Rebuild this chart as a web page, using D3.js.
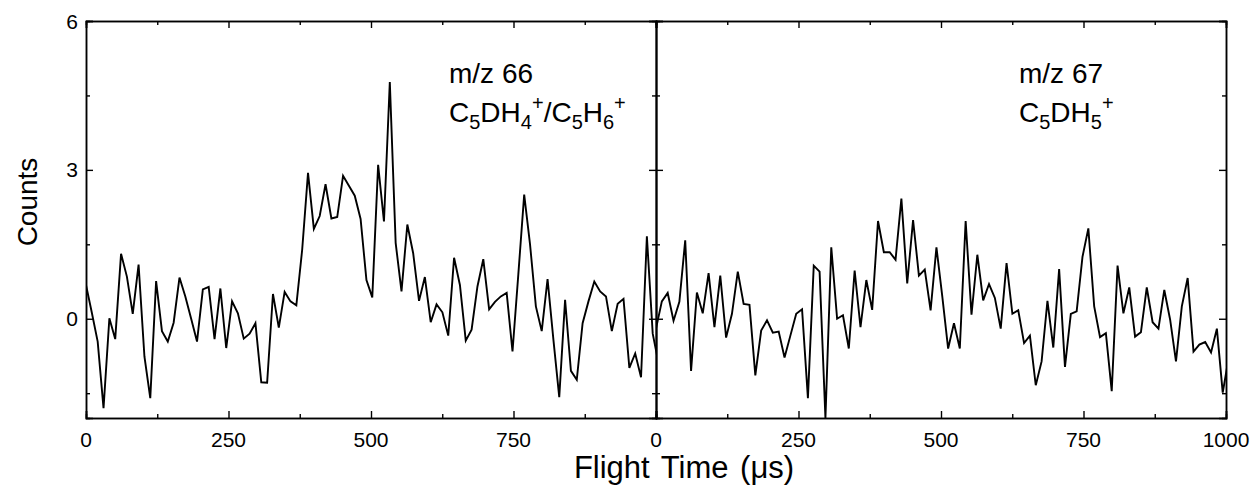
<!DOCTYPE html>
<html>
<head>
<meta charset="utf-8">
<script src="https://cdn.jsdelivr.net/npm/d3@7"></script>
<style>
  html, body { margin: 0; padding: 0; background: #ffffff; }
  svg { display: block; }
  text { font-family: "Liberation Sans", Arial, sans-serif; fill: #000; }
</style>
</head>
<body>
<div id="chart"></div>
<script>
// ---------------- data ----------------
const binWidth = 10.25; // µs per channel
const flightTimes = d3.range(99).map(i => i * binWidth);

const countsM66 = [
  0.68, 0.12, -0.46, -1.8, 0.01, -0.41, 1.31, 0.85, 0.1, 1.09,
  -0.76, -1.6, 0.76, -0.25, -0.46, -0.08, 0.83, 0.45, 0.0, -0.46,
  0.59, 0.64, -0.41, 0.61, -0.59, 0.35, 0.11, -0.4, -0.3, -0.09,
  -1.28, -1.29, 0.5, -0.18, 0.54, 0.35, 0.27, 1.39, 2.94, 1.81,
  2.07, 2.71, 2.02, 2.05, 2.88, 2.68, 2.48, 2.01, 0.78, 0.43,
  3.1, 1.96, 4.77, 1.53, 0.55, 1.9, 1.32, 0.36, 0.84, -0.07,
  0.29, 0.13, -0.34, 1.23, 0.68, -0.44, -0.22, 0.65, 1.2, 0.19,
  0.34, 0.45, 0.52, -0.66, 0.9, 2.5, 1.5, 0.25, -0.25, 0.8,
  -0.42, -1.58, 0.38, -1.05, -1.23, -0.09, 0.35, 0.75, 0.55, 0.45,
  -0.25, 0.3, 0.4, -0.99, -0.7, -1.18, 1.66, -0.3, -0.9
];

const countsM67 = [
  -0.2, 0.35, 0.52, -0.04, 0.34, 1.58, -1.05, 0.53, 0.11, 0.92,
  -0.17, 0.87, -0.38, 0.1, 0.95, 0.3, 0.28, -1.14, -0.24, -0.03,
  -0.28, -0.26, -0.78, -0.34, 0.1, 0.19, -1.6, 1.07, 0.95, -2.0,
  1.44, 0.0, 0.07, -0.6, 0.97, -0.17, 0.78, 0.18, 1.97, 1.34,
  1.34, 1.19, 2.42, 0.71, 1.99, 0.87, 0.99, 0.17, 1.44, 0.45,
  -0.6, -0.09, -0.6, 1.97, 0.08, 1.29, 0.37, 0.7, 0.42, -0.2,
  1.12, 0.1, 0.17, -0.49, -0.34, -1.34, -0.86, 0.36, -0.58, 1.0,
  -0.97, 0.1, 0.15, 1.25, 1.82, 0.25, -0.37, -0.29, -1.46, 1.07,
  0.11, 0.63, -0.36, -0.27, 0.63, -0.07, -0.2, 0.58, -0.02, -0.86,
  0.25, 0.82, -0.66, -0.52, -0.47, -0.68, -0.2, -1.49, -0.8
];

const xMajorTicks = [0, 250, 500, 750, 1000];
const xMinorTicks = [125, 375, 625, 875];
const yMajorTicks = [0, 3, 6];
const yMinorTicks = [-1.5, 1.5, 4.5];
const yLabels = [0, 3, 6];

const panels = [
  { id: "m66", values: countsM66, title: "m/z 66",
    formula: [{t:"C"},{t:"5",s:"sub"},{t:"DH"},{t:"4",s:"sub"},{t:"+",s:"sup"},{t:"/C"},{t:"5",s:"sub"},{t:"H"},{t:"6",s:"sub"},{t:"+",s:"sup"}],
    xLabels: [0, 250, 500, 750] },
  { id: "m67", values: countsM67, title: "m/z 67",
    formula: [{t:"C"},{t:"5",s:"sub"},{t:"DH"},{t:"5",s:"sub"},{t:"+",s:"sup"}],
    xLabels: [0, 250, 500, 750, 1000] }
];

// ---------------- layout ----------------
const W = 1254, H = 497;
const plotTop = 21, plotBottom = 418;
const panelX = [[86, 656], [656, 1226]];
const majorLen = 7, minorLen = 4;

const svg = d3.select("#chart").append("svg").attr("width", W).attr("height", H);
svg.append("rect").attr("width", W).attr("height", H).attr("fill", "#ffffff");

const y = d3.scaleLinear().domain([-2, 6]).range([plotBottom, plotTop]);

panels.forEach((p, pi) => {
  const x = d3.scaleLinear().domain([0, 1000]).range(panelX[pi]);
  const g = svg.append("g");

  svg.append("clipPath").attr("id", "clip-" + p.id)
    .append("rect")
    .attr("x", x(0)).attr("y", y(6))
    .attr("width", x(1000) - x(0)).attr("height", y(-2) - y(6));

  const line = d3.line().x((d, i) => x(flightTimes[i])).y(d => y(d));
  g.append("path")
    .datum(p.values)
    .attr("clip-path", "url(#clip-" + p.id + ")")
    .attr("d", line)
    .attr("fill", "none")
    .attr("stroke", "#000")
    .attr("stroke-width", 1.9)
    .attr("stroke-linejoin", "miter");

  const mk = (axisFn, pos, vals, len) => g.append("g").attr("transform", pos)
    .call(axisFn.tickValues(vals).tickSize(-len).tickFormat(""));

  const axes = [
    mk(d3.axisBottom(x), `translate(0,${y(-2)})`, xMajorTicks, majorLen),
    mk(d3.axisBottom(x), `translate(0,${y(-2)})`, xMinorTicks, minorLen),
    mk(d3.axisTop(x), `translate(0,${y(6)})`, xMajorTicks, majorLen),
    mk(d3.axisTop(x), `translate(0,${y(6)})`, xMinorTicks, minorLen),
    mk(d3.axisLeft(y), `translate(${x(0)},0)`, yMajorTicks, majorLen),
    mk(d3.axisLeft(y), `translate(${x(0)},0)`, yMinorTicks, minorLen),
    mk(d3.axisRight(y), `translate(${x(1000)},0)`, yMajorTicks, majorLen),
    mk(d3.axisRight(y), `translate(${x(1000)},0)`, yMinorTicks, minorLen)
  ];
  axes.forEach(a => {
    a.select(".domain").attr("stroke", "#000").attr("stroke-width", 1.5);
    a.selectAll(".tick line").attr("stroke", "#000").attr("stroke-width", 1.4);
  });

  g.selectAll("text.xl").data(p.xLabels).enter().append("text")
    .attr("class", "xl")
    .attr("x", d => x(d)).attr("y", 447)
    .attr("text-anchor", "middle")
    .attr("font-size", 21)
    .text(d => d);

  const tx = pi === 0 ? 449 : 1019;
  svg.append("text").attr("x", tx).attr("y", 83).attr("font-size", 28).text(p.title);
  const ft = svg.append("text").attr("x", tx).attr("y", 122).attr("font-size", 28);
  let cur = 0;
  p.formula.forEach(seg => {
    const target = seg.s === "sub" ? 7 : seg.s === "sup" ? -12 : 0;
    const ts = ft.append("tspan").text(seg.t).attr("dy", target - cur);
    if (seg.s) ts.attr("font-size", 20);
    cur = target;
  });
});

svg.selectAll("text.yl").data(yLabels).enter().append("text")
  .attr("class", "yl")
  .attr("x", 78).attr("y", d => y(d))
  .attr("dy", "0.36em")
  .attr("text-anchor", "end")
  .attr("font-size", 21)
  .text(d => d);

svg.append("text")
  .attr("transform", "translate(37,202) rotate(-90)")
  .attr("text-anchor", "middle")
  .attr("font-size", 28)
  .text("Counts");

svg.append("text")
  .attr("x", 684).attr("y", 478)
  .attr("text-anchor", "middle")
  .attr("font-size", 31)
  .attr("word-spacing", 3)
  .text("Flight Time (\u03bcs)");
</script>
</body>
</html>
